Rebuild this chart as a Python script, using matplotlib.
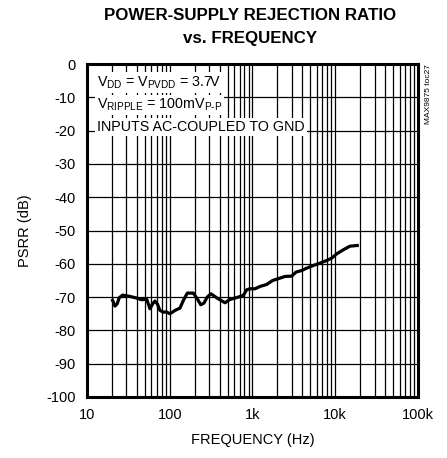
import matplotlib
matplotlib.use("Agg")
from matplotlib import pyplot as plt
from matplotlib import font_manager

# Police étroite si disponible
noms = {f.name for f in font_manager.fontManager.ttflist}
POLICE = "Liberation Sans Narrow" if "Liberation Sans Narrow" in noms else "Liberation Sans"
plt.rcParams["font.family"] = [POLICE, "DejaVu Sans"]
plt.rcParams["mathtext.fontset"] = "custom"
plt.rcParams["mathtext.rm"] = POLICE
plt.rcParams["mathtext.it"] = POLICE
plt.rcParams["axes.unicode_minus"] = False

# Données
frequence = [20.4, 21.8, 23.2, 24.5, 27.0, 33.1, 39.9, 45.8, 52.6, 57.7, 62.2,
             66.3, 70.7, 76.2, 83.6, 91.9, 100.7, 115.7, 133, 146, 163, 193,
             215, 237, 259, 284, 315, 369, 465, 535, 673, 774, 851, 933, 1072,
             1233, 1486, 1754, 2148, 2470, 2977, 3357, 3935, 4520, 5433, 6547,
             7888, 9060, 10420, 12510, 15070, 18450]
psrr = [-71.0, -72.7, -72.0, -70.2, -69.4, -69.8, -70.3, -70.8, -70.6, -73.5,
        -72.0, -71.2, -72.0, -74.0, -74.5, -74.5, -75.0, -74.0, -73.3, -71.0,
        -68.8, -68.8, -70.5, -72.3, -71.8, -70.0, -69.0, -70.2, -71.7, -70.7,
        -70.0, -69.5, -67.8, -67.5, -67.5, -66.8, -66.2, -65.0, -64.3, -63.8,
        -63.7, -62.5, -62.0, -61.3, -60.5, -59.8, -59.0, -58.3, -57.0, -55.8,
        -54.7, -54.5]

xticks = [10, 100, 1000, 10000, 100000]
xlabels = ["10", "100", "1k", "10k", "100k"]
yticks = list(range(-100, 1, 10))

fig = plt.figure(figsize=(4.47, 4.58), dpi=100)
ax = fig.add_axes([0.1946, 0.1332, 0.7405, 0.727])

ax.set_xscale("log")
ax.set_xlim(10, 100000)
ax.set_ylim(-100, 0)

# Grille
for dec in [10, 100, 1000, 10000]:
    for k in range(2, 10):
        ax.axvline(dec * k, color="black", lw=0.9, zorder=1)
for y in yticks[1:-1]:
    ax.axhline(y, color="black", lw=0.9, zorder=1)
for d in [100, 1000, 10000]:
    ax.axvline(d, color="black", lw=0.9, zorder=1)

ax.plot(frequence, psrr, color="black", lw=2.3, zorder=3)

ax.set_xticks(xticks)
ax.set_xticklabels(xlabels)
ax.set_xticks([], minor=True)
ax.set_yticks(yticks)
ax.tick_params(length=0, labelsize=10.5, pad=8)
for s in ax.spines.values():
    s.set_linewidth(2.2)

ax.set_xlabel("FREQUENCY (Hz)", fontsize=10.5, labelpad=8)
ax.set_ylabel("PSRR (dB)", fontsize=10.5, labelpad=10)

# Texte des conditions
boite = dict(facecolor="white", edgecolor="none", pad=1.5)
ax.text(0.03, 0.945, r"V$_{\mathrm{DD}}$ = V$_{\mathrm{PVDD}}$ = 3.7V", transform=ax.transAxes,
        fontsize=10.3, va="center", ha="left", bbox=boite, zorder=4)
ax.text(0.03, 0.877, r"V$_{\mathrm{RIPPLE}}$ = 100mV$_{\mathrm{P\text{-}P}}$", transform=ax.transAxes,
        fontsize=10.3, va="center", ha="left", bbox=boite, zorder=4)
ax.text(0.03, 0.81, "INPUTS AC-COUPLED TO GND", transform=ax.transAxes,
        fontsize=10.3, va="center", ha="left", bbox=boite, zorder=4)

fig.text(0.958, 0.86, "MAX9875 toc27", rotation=90, fontsize=6, ha="center", va="top")

fig.text(0.56, 0.967, "POWER-SUPPLY REJECTION RATIO", fontsize=12.2, fontweight="bold",
         ha="center", va="center")
fig.text(0.56, 0.917, "vs. FREQUENCY", fontsize=12.2, fontweight="bold", ha="center", va="center")

fig.savefig("out.png", dpi=100)
